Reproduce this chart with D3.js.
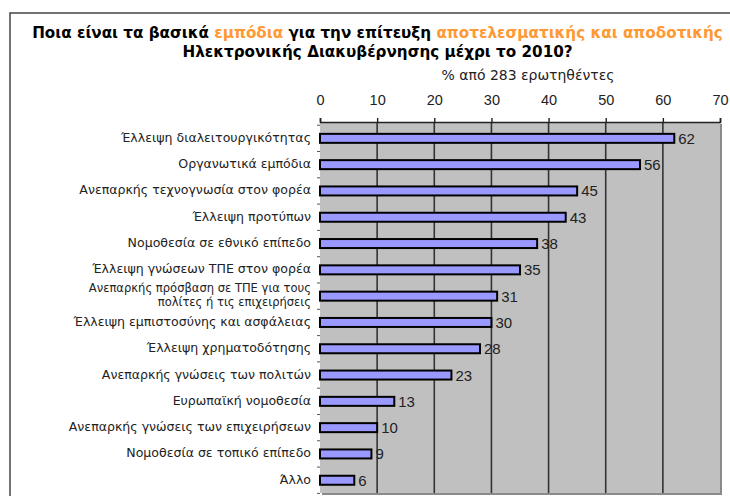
<!DOCTYPE html>
<html>
<head>
<meta charset="utf-8">
<script src="https://cdn.jsdelivr.net/npm/d3@7"></script>
<style>
  html, body { margin: 0; padding: 0; background: #fff; }
  svg { display: block; }
</style>
</head>
<body>
<svg id="chart" width="730" height="496"></svg>
<script>
// Obstacles to effective e-Government by 2010 (% of 283 respondents)
const categories = [
  "Έλλειψη διαλειτουργικότητας",
  "Οργανωτικά εμπόδια",
  "Ανεπαρκής τεχνογνωσία στον φορέα",
  "Έλλειψη προτύπων",
  "Νομοθεσία σε εθνικό επίπεδο",
  "Έλλειψη γνώσεων ΤΠΕ στον φορέα",
  "Ανεπαρκής πρόσβαση σε ΤΠΕ για τους\nπολίτες ή τις επιχειρήσεις",
  "Έλλειψη εμπιστοσύνης και ασφάλειας",
  "Έλλειψη χρηματοδότησης",
  "Ανεπαρκής γνώσεις των πολιτών",
  "Ευρωπαϊκή νομοθεσία",
  "Ανεπαρκής γνώσεις των επιχειρήσεων",
  "Νομοθεσία σε τοπικό επίπεδο",
  "Άλλο"
];
const values = [62, 56, 45, 43, 38, 35, 31, 30, 28, 23, 13, 10, 9, 6];
const xTicks = [0, 10, 20, 30, 40, 50, 60, 70];

const titleLine1 = [
  { text: "Ποια είναι τα βασικά ", accent: false },
  { text: "εμπόδια", accent: true },
  { text: " για την επίτευξη ", accent: false },
  { text: "αποτελεσματικής και αποδοτικής", accent: true }
];
const titleLine2 = "Ηλεκτρονικής Διακυβέρνησης μέχρι το 2010?";
const subtitle = "% από 283 ερωτηθέντες";

const svg = d3.select("#chart");
const plot = { left: 320, right: 720, top: 122, bottom: 493 };

const x = d3.scaleLinear().domain([0, 70]).range([plot.left, plot.right]);
const y = d3.scaleBand().domain(d3.range(categories.length))
  .range([125.2, 493.4]).paddingInner(0).paddingOuter(0);

// outer frame
svg.append("rect")
  .attr("x", 10).attr("y", 13).attr("width", 760).attr("height", 520)
  .attr("fill", "none").attr("stroke", "#444").attr("stroke-width", 1.5);

// scale a text element's font size so it spans the given width
function fitWidth(sel, width, base) {
  sel.style("font-size", base + "px");
  const w = sel.node().getComputedTextLength();
  sel.style("font-size", (base * width / w).toFixed(2) + "px");
}

// title
const t1 = svg.append("text")
  .attr("x", 377.5).attr("y", 33).attr("text-anchor", "middle")
  .attr("dominant-baseline", "central")
  .style("font-family", "'DejaVu Sans', sans-serif").style("font-weight", "bold");
t1.selectAll("tspan").data(titleLine1).join("tspan")
  .attr("fill", d => d.accent ? "#ff9933" : "#000")
  .text(d => d.text);
fitWidth(t1, 691, 14);

const t2 = svg.append("text")
  .attr("x", 377.5).attr("y", 52).attr("text-anchor", "middle")
  .attr("dominant-baseline", "central")
  .style("font-family", "'DejaVu Sans', sans-serif").style("font-weight", "bold")
  .attr("fill", "#000").text(titleLine2);
t2.style("font-size", t1.style("font-size"));

const st = svg.append("text")
  .attr("x", 528).attr("y", 75).attr("text-anchor", "middle")
  .attr("dominant-baseline", "central")
  .style("font-family", "'DejaVu Sans', sans-serif")
  .attr("fill", "#222").text(subtitle);
fitWidth(st, 173, 13);

// plot background with a soft shadow on the right and bottom edges
svg.append("rect")
  .attr("x", plot.left + 2).attr("y", plot.top + 2)
  .attr("width", plot.right - plot.left).attr("height", plot.bottom - plot.top)
  .attr("fill", "#8a8a8a");
svg.append("rect")
  .attr("x", plot.left).attr("y", plot.top)
  .attr("width", plot.right - plot.left).attr("height", plot.bottom - plot.top)
  .attr("fill", "#c0c0c0");

// vertical gridlines
svg.append("g").selectAll("line")
  .data(xTicks.filter(d => d > 0 && d < 70)).join("line")
  .attr("x1", d => x(d)).attr("x2", d => x(d))
  .attr("y1", plot.top).attr("y2", plot.bottom)
  .attr("stroke", "#333").attr("stroke-width", 1.6);

// top axis
const xAxis = d3.axisTop(x).tickValues(xTicks).tickSize(4).tickPadding(13);
const gx = svg.append("g").attr("transform", `translate(0,${plot.top})`).call(xAxis);
gx.select(".domain").attr("stroke", "#222").attr("stroke-width", 1.6);
gx.selectAll(".tick line").attr("stroke", "#222").attr("stroke-width", 1.4);
gx.selectAll(".tick text")
  .attr("fill", "#222")
  .style("font-family", "'Liberation Sans', Arial, sans-serif")
  .style("font-size", "14.5px");

// small category ticks on the left edge
svg.append("g").selectAll("line")
  .data(d3.range(categories.length + 1)).join("line")
  .attr("x1", plot.left - 3).attr("x2", plot.left)
  .attr("y1", i => i < categories.length ? y(i) : y.range()[1])
  .attr("y2", i => i < categories.length ? y(i) : y.range()[1])
  .attr("stroke", "#555").attr("stroke-width", 1);

// bars
const barH = 9;
svg.append("g").selectAll("rect")
  .data(values).join("rect")
  .attr("x", x(0))
  .attr("y", (d, i) => y(i) + y.bandwidth() / 2 - barH / 2)
  .attr("width", d => x(d) - x(0))
  .attr("height", barH)
  .attr("fill", "#9999ff")
  .attr("stroke", "#000").attr("stroke-width", 2);

// value labels
svg.append("g").selectAll("text")
  .data(values).join("text")
  .attr("x", d => x(d) + 4)
  .attr("y", (d, i) => y(i) + y.bandwidth() / 2)
  .attr("dominant-baseline", "central")
  .attr("fill", "#222")
  .style("font-family", "'Liberation Sans', Arial, sans-serif")
  .style("font-size", "15px")
  .text(d => d);

// category labels; size so the longest single-line label spans its width
const labels = svg.append("g")
  .style("font-family", "'DejaVu Sans', sans-serif")
  .attr("fill", "#222");
const probe = labels.append("text").text(categories[0]).style("font-size", "12px");
const labelSize = 12 * 190 / probe.node().getComputedTextLength();
probe.remove();

const lab = labels.selectAll("text")
  .data(categories).join("text")
  .attr("text-anchor", "end")
  .attr("x", 311)
  .attr("y", (d, i) => y(i) + y.bandwidth() / 2 - 1);
lab.each(function (d) {
  const lines = d.split("\n");
  const sel = d3.select(this);
  // wrapped labels are set a touch smaller so their two lines stay apart
  const size = lines.length > 1 ? labelSize * 0.92 : labelSize;
  const lh = size * 1.18;
  sel.style("font-size", size.toFixed(2) + "px");
  lines.forEach((ln, k) => {
    sel.append("tspan")
      .attr("x", 311)
      .attr("dy", k === 0 ? (-(lines.length - 1) * lh / 2) : lh)
      .attr("dominant-baseline", "central")
      .text(ln);
  });
});
</script>
</body>
</html>
